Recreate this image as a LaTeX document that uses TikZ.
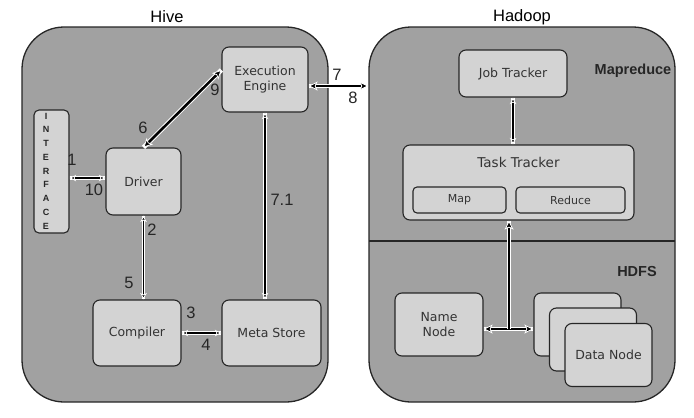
\documentclass[tikz,border=0pt]{standalone}
\usepackage{fontspec}
\setmainfont{Liberation Sans}
\newfontfamily\boxfont{DejaVu Sans}
\usetikzlibrary{arrows.meta}
\definecolor{panelgray}{HTML}{A1A1A1}
\definecolor{boxgray}{HTML}{D3D3D3}
\definecolor{boxtext}{HTML}{333333}
\begin{document}
\begin{tikzpicture}[x=1pt,y=-1pt,
  panel/.style={draw=black!85, line width=1.3pt, fill=panelgray, rounded corners=42pt, inner sep=0pt},
  blk/.style={draw=black!85, line width=1.1pt, fill=boxgray, rounded corners=7pt, inner sep=0pt, align=center, text=boxtext, font=\boxfont\fontsize{12.5}{14.5}\selectfont},
  num/.style={font=\fontsize{16.5}{18}\selectfont, text=black!85, inner sep=0pt},
  ttl/.style={font=\fontsize{16.5}{18}\selectfont, inner sep=0pt},
  bold/.style={font=\bfseries\fontsize{14.5}{16}\selectfont, text=black!85, inner sep=0pt},
  stip/.tip={Stealth[length=6.5pt,width=6.5pt,inset=1.5pt,fill=black,color=white,line width=0.8pt]},
  btip/.tip={Stealth[length=9pt,width=9pt,inset=2pt,fill=black,color=white,line width=0.8pt]},
  conn/.style={draw=black, line width=1.6pt, stip-stip, preaction={draw=white, line width=3.8pt, -}},
  thick conn/.style={draw=black, line width=2.6pt, btip-btip, preaction={draw=white, line width=4.6pt, -}},
  up conn/.style={draw=black, line width=1.6pt, -btip, preaction={draw=white, line width=3.8pt, -}}
]
\useasboundingbox[fill=white] (0,0) rectangle (694,418);

% panels
\node[panel, minimum width=306pt, minimum height=375pt] (hive) at (175,214.5) {};
\node[panel, minimum width=306pt, minimum height=375pt] (hadoop) at (522,214.5) {};
\node[ttl] (hivelbl) at (167,17) {Hive};
\node[ttl] (hadooplbl) at (522,17) {Hadoop};
\coordinate (sepL) at (369,241);
\coordinate (sepR) at (675,241);
\draw[black!85, line width=1.1pt] (sepL) -- (sepR);

% Hive boxes
\node[blk, minimum width=86pt, minimum height=65pt] (engine) at (265,79.5) {Execution\\Engine};
\node[blk, minimum width=35pt, minimum height=123pt, rounded corners=5pt] (iface) at (51.5,171.5) {};
\foreach \l [count=\i from 0] in {I,N,T,E,R,F,A,C,E}
  \node[font=\bfseries\fontsize{9}{10}\selectfont, text=black!85, inner sep=0pt] (if\i) at (46,116+13.75*\i) {\l};
\node[blk, minimum width=75pt, minimum height=67pt] (driver) at (143.5,181.5) {Driver};
\node[blk, minimum width=88pt, minimum height=66pt] (compiler) at (137,333) {Compiler};
\node[blk, minimum width=99pt, minimum height=66pt] (meta) at (271.5,333) {Meta Store};

% Hadoop boxes
\node[blk, minimum width=108pt, minimum height=47pt] (job) at (513,73.5) {Job Tracker};
\node[blk, minimum width=231pt, minimum height=75pt] (task) at (518.5,182.5) {};
\node[text=boxtext, font=\boxfont\fontsize{13.5}{15}\selectfont, inner sep=0pt] (tasklbl) at (518.5,162) {Task Tracker};
\node[blk, minimum width=93pt, minimum height=26pt, rounded corners=4pt, font=\boxfont\fontsize{11}{12}\selectfont] (map) at (459.5,200) {Map};
\node[blk, minimum width=109pt, minimum height=26pt, rounded corners=4pt, font=\boxfont\fontsize{11}{12}\selectfont] (reduce) at (570.5,200) {Reduce};
\node[bold] (mr) at (633,71) {Mapreduce};
\node[bold] (hdfs) at (637,272) {HDFS};
\node[blk, minimum width=88pt, minimum height=63pt] (name) at (439,324.5) {Name\\Node};
\node[blk, minimum width=87pt, minimum height=63pt] (d1) at (577.5,324.5) {};
\node[blk, minimum width=87pt, minimum height=63pt] (d2) at (593,339.5) {};
\node[blk, minimum width=87pt, minimum height=63pt] (d3) at (608.5,355) {Data Node};

% connectors
\draw[conn] ([yshift=-6.5pt]iface.east) -- ([yshift=3.5pt]driver.west);
\draw[thick conn] (driver.north) -- ([yshift=9.5pt]engine.west);
\draw[conn] (driver.south) -- (driver.south |- compiler.north);
\draw[conn] (compiler.east) -- (meta.west);
\draw[conn] (engine.south) -- (engine.south |- meta.north);
\draw[thick conn] ([yshift=-6.5pt]engine.east) -- ([yshift=-6.5pt]engine.east -| hadoop.west);
\draw[conn] (job.south) -- (job.south |- task.north);
\draw[thick conn] ([yshift=-4.5pt]name.east) -- ([yshift=-4.5pt]d1.west);
\coordinate (jn) at (509,329);
\draw[up conn] (jn) -- (jn |- task.south);

% labels
\node[num] (n1) at (72,160) {1};
\node[num] (n10) at (94,190) {10};
\node[num] (n6) at (143,128) {6};
\node[num] (n9) at (215,90) {9};
\node[num] (n2) at (152,230) {2};
\node[num] (n5) at (129,283) {5};
\node[num] (n3) at (191,313) {3};
\node[num] (n4) at (206,345) {4};
\node[num] (n71) at (282,200) {7.1};
\node[num] (n7) at (337,75) {7};
\node[num] (n8) at (353,98) {8};
\end{tikzpicture}
\end{document}
